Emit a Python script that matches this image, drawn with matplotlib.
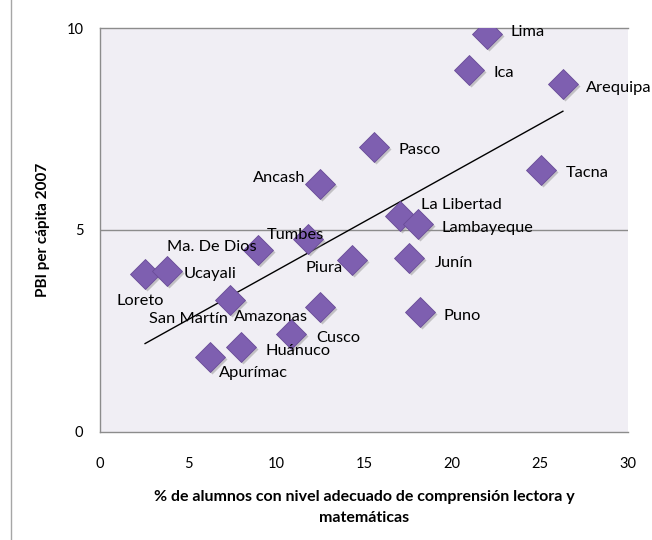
import numpy as np
import matplotlib.pyplot as plt
import matplotlib.transforms as mtransforms
from matplotlib.lines import Line2D

plt.rcParams['font.family'] = ['Lato', 'DejaVu Sans']

# datos por departamento
regiones = ["Lima", "Ica", "Arequipa", "Pasco", "Tacna", "Ancash", "La Libertad",
            "Lambayeque", "Tumbes", "Ma. De Dios", "Piura", "Junín", "Loreto",
            "Ucayali", "San Martín", "Amazonas", "Puno", "Cusco", "Huánuco", "Apurímac"]
alumnos = [22.0, 20.97, 26.3, 15.57, 25.06, 12.5, 17.05, 18.07, 11.82, 8.98,
           14.3, 17.56, 2.56, 3.8, 7.39, 12.5, 18.18, 10.85, 8.0, 6.25]
pbi = [9.84, 8.97, 8.62, 7.06, 6.49, 6.14, 5.35, 5.15, 4.78, 4.50,
       4.25, 4.30, 3.91, 3.98, 3.26, 3.09, 2.96, 2.42, 2.10, 1.85]

x_ticks = [0, 5, 10, 15, 20, 25, 30]
y_ticks = [0, 5, 10]

# posicion de etiquetas (pixeles desde el punto, alineacion)
etiquetas = {
    "Lima": (23, 2, 'left'), "Ica": (24, -3, 'left'), "Arequipa": (23, -4, 'left'),
    "Pasco": (24, -3, 'left'), "Tacna": (25, -3, 'left'), "Ancash": (-15, 6, 'right'),
    "La Libertad": (21, 11, 'left'), "Lambayeque": (23, -4, 'left'),
    "Tumbes": (-13, 4, 'center'), "Ma. De Dios": (-1, 3, 'right'),
    "Piura": (-9, -8, 'right'), "Junín": (26, -5, 'left'), "Loreto": (-5, -27, 'center'),
    "Ucayali": (17, -3, 'left'), "San Martín": (-2, -19, 'right'),
    "Amazonas": (-12, -10, 'right'), "Puno": (24, -4, 'left'), "Cusco": (25, -4, 'left'),
    "Huánuco": (25, -4, 'left'), "Apurímac": (9, -16, 'left'),
}

fig = plt.figure(figsize=(6.52, 5.40), dpi=100)
ax = fig.add_axes([0.1534, 0.2009, 0.8098, 0.7472])
ax.set_facecolor('#F0EEF4')

ax.set_xlim(0, 30)
ax.set_ylim(0, 10)
ax.set_xticks(x_ticks)
ax.set_yticks(y_ticks)
ax.tick_params(length=0, labelsize=10.5, colors='black')
ax.tick_params(axis='x', pad=18)
ax.tick_params(axis='y', pad=12)

ax.spines['right'].set_visible(False)
for s in ['left', 'bottom', 'top']:
    ax.spines[s].set_color('#8C8C8C')
    ax.spines[s].set_linewidth(1)
ax.axhline(5, color='#8C8C8C', lw=1, zorder=1)

# linea de tendencia
m, b = np.polyfit(alumnos, pbi, 1)
xs = np.array([min(alumnos), max(alumnos)])
ax.plot(xs, m * xs + b, color='black', lw=1, zorder=2)

# sombra + marcador
sombra = ax.transData + mtransforms.ScaledTranslation(2/100, -2/100, fig.dpi_scale_trans)
ax.plot(alumnos, pbi, 'D', ms=15, color='#8A8A8A', alpha=0.45,
        mec='none', zorder=3, transform=sombra)
ax.plot(alumnos, pbi, 'D', ms=15, color='#7E5FB0', mec='#6A4C98', mew=0.6, zorder=4)

for r, xv, yv in zip(regiones, alumnos, pbi):
    dx, dy, ha = etiquetas[r]
    ax.annotate(r, (xv, yv), xytext=(dx, dy), textcoords='offset pixels',
                ha=ha, va='center', fontsize=11.8, zorder=5)

ax.set_xlabel('% de alumnos con nivel adecuado de comprensión lectora y\nmatemáticas',
              fontsize=11.5, fontweight='bold', labelpad=14, linespacing=1.6)
ax.set_ylabel('PBI per cápita 2007', fontsize=11, fontweight='bold', labelpad=12)

fig.add_artist(Line2D([11/652, 11/652], [0, 1], color='#A6A6A6', lw=1))

fig.savefig('out.png', dpi=100)
